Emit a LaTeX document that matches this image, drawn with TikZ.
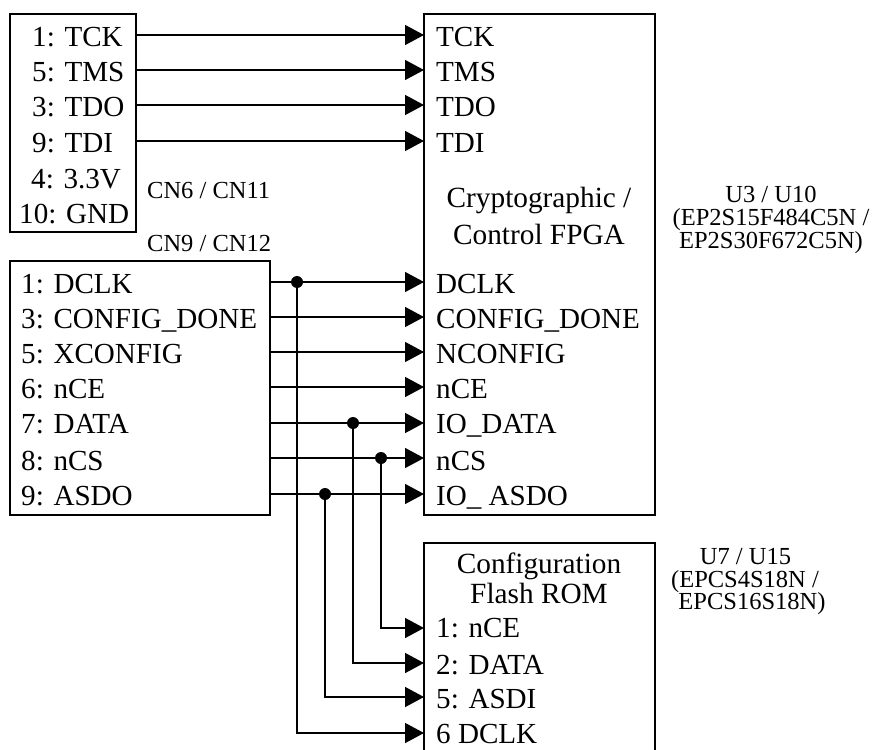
\documentclass[tikz,border=0pt]{standalone}
\usepackage{fontspec}
\setmainfont{Liberation Serif}
\usetikzlibrary{arrows.meta}
\begin{document}
\begin{tikzpicture}[x=1pt,y=-1pt,
 box/.style={draw,line width=1.4pt},
 lab/.style={font=\fontsize{29.1}{30}\selectfont,anchor=base west,inner sep=0pt},
 small/.style={font=\fontsize{24.5}{17.5}\selectfont,inner sep=0pt,align=center,anchor=base},
 cnlab/.style={font=\fontsize{24.5}{26}\selectfont,inner sep=0pt,anchor=base west},
 big/.style={font=\fontsize{29.3}{30}\selectfont,inner sep=0pt,anchor=base},
 wire/.style={line width=1.4pt,-{Triangle[length=19pt,width=20pt]}},
 dot/.style={circle,fill,inner sep=0pt,minimum size=12pt}]
\useasboundingbox (0,0) rectangle (874,749);
\draw[box] (10,14) rectangle (136,232);
\draw[box] (10,261) rectangle (270,515);
\draw[box] (424,14) rectangle (655,515);
\draw[box] (424,760) -- (424,543) -- (655,543) -- (655,760);
\foreach \n/\y/\t/\b in {a/35/1: TCK/47,b/70/5: TMS/82,c/105/3: TDO/117,d/141/9: TDI/152}{
 \node[lab] (l\n) at (32,\b) {\t};
 \coordinate (s\n) at (136,\y);
 \coordinate (e\n) at (424,\y);
}
\node[lab] (lvcc) at (31,188) {4: 3.3V};
\node[lab] (lgnd) at (19,223) {10: GND};
\foreach \n/\t/\b in {a/TCK/47,b/TMS/82,c/TDO/117,d/TDI/152}{
 \node[lab] (t\n) at (436,\b) {\t};
 \draw[wire] (s\n) -- (e\n);
}
\node[cnlab] (cn1) at (147,198) {CN6 / CN11};
\node[cnlab] (cn2) at (147,251) {CN9 / CN12};
\node[big] (fpga1) at (539,207) {Cryptographic /};
\node[big] (fpga2) at (539,244) {Control FPGA};
\node[small] (u31) at (771,202) {U3 / U10};
\node[small] (u32) at (771,225) {(EP2S15F484C5N /};
\node[small] (u33) at (771,248) {EP2S30F672C5N)};
\node[small] (u71) at (745.5,564) {U7 / U15};
\node[small] (u72) at (745,587) {(EPCS4S18N /};
\node[small] (u73) at (752,609) {EPCS16S18N)};
\foreach \n/\y/\t/\u/\b in {p/282/1: DCLK/DCLK/293,q/317/3: CONFIG\_DONE/CONFIG\_DONE/328,r/352/5: XCONFIG/NCONFIG/363,s/387/6: nCE/nCE/398,t/423/7: DATA/IO\_DATA/433,u/458/8: nCS/nCS/470,v/494/9: ASDO/IO\_ ASDO/505}{
 \node[lab] (l\n) at (21,\b) {\t};
 \node[lab] (t\n) at (436,\b) {\u};
 \coordinate (s\n) at (270,\y);
 \coordinate (e\n) at (424,\y);
 \draw[wire] (s\n) -- (e\n);
}
\node[big] (rom1) at (539,573) {Configuration};
\node[big] (rom2) at (539,603) {Flash ROM};
\foreach \n/\y/\t/\b in {w/628/1: nCE/637,x/663/2: DATA/674,y/697/5: ASDI/708,z/733/6 DCLK/743}{
 \node[lab] (t\n) at (436,\b) {\t};
 \coordinate (e\n) at (424,\y);
}
\node[dot] (d1) at (297,282) {};
\node[dot] (d2) at (353,423) {};
\node[dot] (d3) at (381,458) {};
\node[dot] (d4) at (325,494) {};
\draw[wire] (d3.center) |- (ew);
\draw[wire] (d2.center) |- (ex);
\draw[wire] (d4.center) |- (ey);
\draw[wire] (d1.center) |- (ez);
\end{tikzpicture}
\end{document}
